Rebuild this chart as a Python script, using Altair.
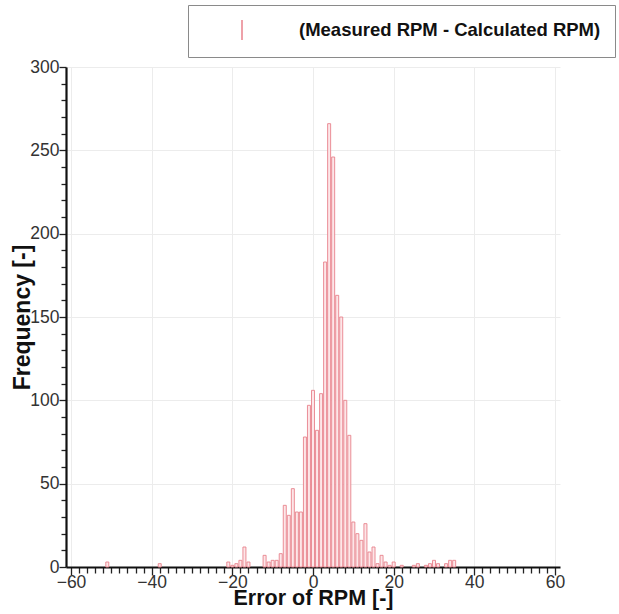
import altair as alt
import pandas as pd

# Histogram of error values (bin centres) and counts
error_bins = [-51, -38, -21, -20, -19, -18, -17, -16, -12, -11, -10, -9, -8,
              -7, -6, -5, -4, -3, -2, -1, 0, 1, 2, 3, 4, 5, 6, 7, 8, 9,
              10, 11, 12, 13, 14, 15, 16, 17, 18, 19, 20, 22, 25, 26, 28,
              29, 30, 31, 33, 34, 35]
frequency = [3, 2, 3, 1, 2, 4, 12, 3, 7, 3, 4, 4, 8,
             37, 31, 47, 33, 33, 78, 97, 106, 82, 104, 183, 266, 246, 163, 150, 100, 79,
             27, 20, 16, 26, 9, 12, 2, 7, 3, 1, 3, 1, 1, 2, 1,
             2, 4, 2, 2, 4, 4]
series_name = "(Measured RPM - Calculated RPM)"

x_ticks = list(range(-60, 61, 2))     # minor every 2, major every 20
y_ticks = list(range(0, 301, 10))     # minor every 10, major every 50

df = pd.DataFrame({"err": error_bins, "freq": frequency, "series": series_name})

FONT = "Liberation Sans"
BAR_STROKE = "#e8828c"

x_major_test = "datum.value % 20 === 0"
y_major_test = "datum.value % 50 === 0"

x_axis = alt.Axis(
    values=x_ticks, title="Error of RPM [-]", orient="bottom",
    labelExpr=f"{x_major_test} ? datum.label : ''", labelOverlap=False,
    tickSize={"condition": {"test": x_major_test, "value": 8}, "value": 6},
    tickWidth=1.3,
    tickColor="#222",
    domainColor="#111", domainWidth=2.2,
    labelFont=FONT, labelFontSize=17.5, labelColor="#333",
    labelPadding=-2, labelFlush=False,
    titleFont=FONT, titleFontSize=21.5, titleFontWeight="bold",
    titleColor="#111", titlePadding=-3,
    grid=True, gridColor="#ececec", gridWidth=1,
    gridOpacity={"condition": {"test": x_major_test, "value": 1}, "value": 0},
)

y_axis = alt.Axis(
    values=y_ticks, title="Frequency [-]", orient="left",
    labelExpr=f"{y_major_test} ? datum.label : ''", labelOverlap=False,
    tickSize={"condition": {"test": y_major_test, "value": 7}, "value": 5},
    tickWidth=1.3,
    tickColor="#222",
    domainColor="#111", domainWidth=2.2,
    labelFont=FONT, labelFontSize=17.5, labelColor="#333",
    labelPadding=0, labelFlush=False,
    titleFont=FONT, titleFontSize=23, titleFontWeight="bold",
    titleColor="#111", titlePadding=-5,
    grid=True, gridColor="#ececec", gridWidth=1,
    gridOpacity={"condition": {"test": y_major_test, "value": 1}, "value": 0},
)

chart = alt.Chart(df).mark_bar(size=3, fill="#fde6e8", strokeWidth=0.9).encode(
    x=alt.X("err:Q", scale=alt.Scale(domain=[-60, 60], nice=False, zero=False), axis=x_axis),
    y=alt.Y("freq:Q", scale=alt.Scale(domain=[0, 300], nice=False), axis=y_axis),
    stroke=alt.Stroke("series:N", scale=alt.Scale(range=[BAR_STROKE]),
                      legend=alt.Legend(title=None, orient="none", legendX=122, legendY=-62,
                                        padding=14, strokeColor="#8a8a8a",
                                        symbolType="M0,-1L0,1", symbolSize=400,
                                        symbolStrokeWidth=1.5, symbolStrokeColor="#eba3aa",
                                        symbolOffset=29, labelOffset=46,
                                        labelFont=FONT, labelFontSize=18.5,
                                        labelFontWeight="bold", labelColor="#111",
                                        labelLimit=400)),
).properties(
    width=494, height=500,
    autosize=alt.AutoSizeParams(type="none"),
    padding={"left": 66, "top": 67, "right": 59, "bottom": 47},
    background="white",
).configure_view(stroke=None)

chart.save("out.html", embed_options={"renderer": "svg", "actions": False})
